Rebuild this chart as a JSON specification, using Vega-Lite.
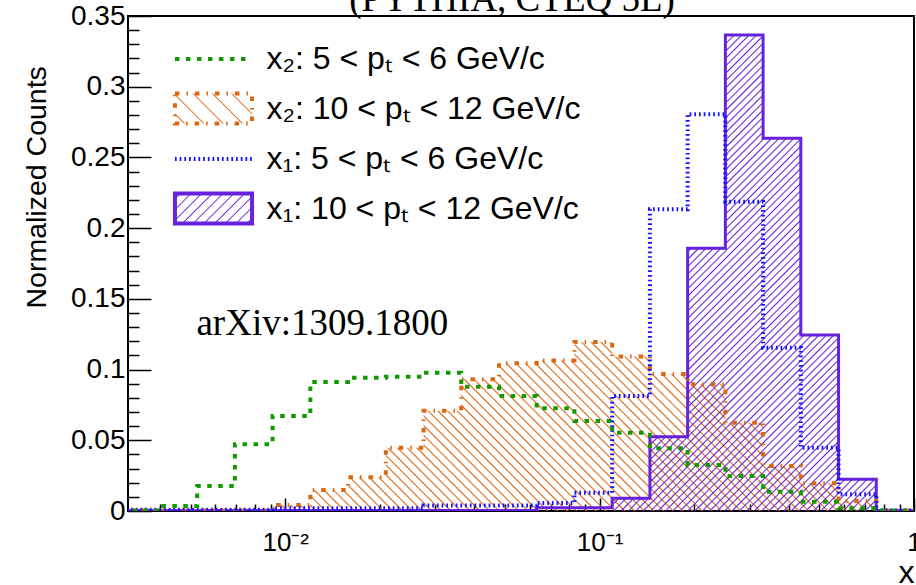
{
"$schema":"https://vega.github.io/schema/vega-lite/v6.json",
"width":786,"height":495,"autosize":"none",
"padding":{"left":128,"top":16,"right":2,"bottom":74},
"background":"white",
"config":{"view":{"stroke":"black","strokeWidth":2},"axis":{"domain":false,"grid":false,"tickColor":"black","tickWidth":1.5,"labelColor":"black","labelFont":"Liberation Sans","titleColor":"black","titleFont":"Liberation Sans","titleFontWeight":"normal","labelOverlap":false,"labelFlush":false,"labelBound":false}},
"data":{"values":[
{"lo":0.0030200,"hi":0.0039811,"g":0.0004,"o":0.0003,"b":0.0008,"p":0.0003},
{"lo":0.0039811,"hi":0.0052481,"g":0.0035,"o":0.0003,"b":0.0008,"p":0.0003},
{"lo":0.0052481,"hi":0.0069183,"g":0.0177,"o":0.0003,"b":0.0008,"p":0.0003},
{"lo":0.0069183,"hi":0.0091201,"g":0.0472,"o":0.0003,"b":0.0008,"p":0.0003},
{"lo":0.0091201,"hi":0.0120226,"g":0.0672,"o":0.0042,"b":0.0019,"p":0.0003},
{"lo":0.0120226,"hi":0.0158489,"g":0.0912,"o":0.0148,"b":0.0019,"p":0.0003},
{"lo":0.0158489,"hi":0.0208930,"g":0.0942,"o":0.0238,"b":0.0019,"p":0.0003},
{"lo":0.0208930,"hi":0.0275423,"g":0.0950,"o":0.0448,"b":0.0019,"p":0.0003},
{"lo":0.0275423,"hi":0.0363078,"g":0.0978,"o":0.0708,"b":0.0039,"p":0.0004},
{"lo":0.0363078,"hi":0.0478630,"g":0.0879,"o":0.0931,"b":0.0039,"p":0.0004},
{"lo":0.0478630,"hi":0.0630957,"g":0.0813,"o":0.1044,"b":0.0039,"p":0.0004},
{"lo":0.0630957,"hi":0.0831764,"g":0.0726,"o":0.1065,"b":0.0057,"p":0.0023},
{"lo":0.0831764,"hi":0.1096478,"g":0.0636,"o":0.1195,"b":0.0129,"p":0.0023},
{"lo":0.1096478,"hi":0.1445440,"g":0.0554,"o":0.1092,"b":0.0813,"p":0.0090},
{"lo":0.1445440,"hi":0.1905461,"g":0.0443,"o":0.0969,"b":0.2133,"p":0.0525},
{"lo":0.1905461,"hi":0.2511886,"g":0.0325,"o":0.0896,"b":0.2805,"p":0.1857},
{"lo":0.2511886,"hi":0.3311311,"g":0.0247,"o":0.0624,"b":0.2187,"p":0.3365},
{"lo":0.3311311,"hi":0.4365158,"g":0.0136,"o":0.0318,"b":0.1155,"p":0.2635},
{"lo":0.4365158,"hi":0.5754399,"g":0.0066,"o":0.0196,"b":0.0448,"p":0.1244},
{"lo":0.5754399,"hi":0.7585776,"g":0.0019,"o":0.0071,"b":0.0118,"p":0.0224},
{"lo":0.7585776,"hi":1.0,"g":0.0004,"o":0.0004,"b":0.0004,"p":0.0003}
]},
"resolve":{"axis":{"x":"independent","y":"independent"}},
"layer":[
{"transform":[{"filter":"datum.o > 0.004"},{"fold":["lo","hi"],"as":["edge","x"]}],
"mark":{"type":"area","clip":true,"fill":{"gradient":"linear","x1":0,"y1":1,"x2":1.1869,"y2":0.6677,"stops":[
{"offset":0.004,"color":"#d610"},{"offset":0.006,"color":"#d61"},{"offset":0.008,"color":"#d610"},{"offset":0.0165,"color":"#d610"},{"offset":0.0185,"color":"#d61"},{"offset":0.0205,"color":"#d610"},{"offset":0.029,"color":"#d610"},{"offset":0.031,"color":"#d61"},{"offset":0.033,"color":"#d610"},{"offset":0.0415,"color":"#d610"},{"offset":0.0435,"color":"#d61"},{"offset":0.0455,"color":"#d610"},{"offset":0.054,"color":"#d610"},{"offset":0.056,"color":"#d61"},{"offset":0.058,"color":"#d610"},{"offset":0.0665,"color":"#d610"},{"offset":0.0685,"color":"#d61"},{"offset":0.0705,"color":"#d610"},{"offset":0.079,"color":"#d610"},{"offset":0.081,"color":"#d61"},{"offset":0.083,"color":"#d610"},{"offset":0.0915,"color":"#d610"},{"offset":0.0935,"color":"#d61"},{"offset":0.0955,"color":"#d610"},
{"offset":0.104,"color":"#d610"},{"offset":0.106,"color":"#d61"},{"offset":0.108,"color":"#d610"},{"offset":0.1165,"color":"#d610"},{"offset":0.1185,"color":"#d61"},{"offset":0.1205,"color":"#d610"},{"offset":0.129,"color":"#d610"},{"offset":0.131,"color":"#d61"},{"offset":0.133,"color":"#d610"},{"offset":0.1415,"color":"#d610"},{"offset":0.1435,"color":"#d61"},{"offset":0.1455,"color":"#d610"},{"offset":0.154,"color":"#d610"},{"offset":0.156,"color":"#d61"},{"offset":0.158,"color":"#d610"},{"offset":0.1665,"color":"#d610"},{"offset":0.1685,"color":"#d61"},{"offset":0.1705,"color":"#d610"},{"offset":0.179,"color":"#d610"},{"offset":0.181,"color":"#d61"},{"offset":0.183,"color":"#d610"},{"offset":0.1915,"color":"#d610"},{"offset":0.1935,"color":"#d61"},{"offset":0.1955,"color":"#d610"},
{"offset":0.204,"color":"#d610"},{"offset":0.206,"color":"#d61"},{"offset":0.208,"color":"#d610"},{"offset":0.2165,"color":"#d610"},{"offset":0.2185,"color":"#d61"},{"offset":0.2205,"color":"#d610"},{"offset":0.229,"color":"#d610"},{"offset":0.231,"color":"#d61"},{"offset":0.233,"color":"#d610"},{"offset":0.2415,"color":"#d610"},{"offset":0.2435,"color":"#d61"},{"offset":0.2455,"color":"#d610"},{"offset":0.254,"color":"#d610"},{"offset":0.256,"color":"#d61"},{"offset":0.258,"color":"#d610"},{"offset":0.2665,"color":"#d610"},{"offset":0.2685,"color":"#d61"},{"offset":0.2705,"color":"#d610"},{"offset":0.279,"color":"#d610"},{"offset":0.281,"color":"#d61"},{"offset":0.283,"color":"#d610"},{"offset":0.2915,"color":"#d610"},{"offset":0.2935,"color":"#d61"},{"offset":0.2955,"color":"#d610"},
{"offset":0.304,"color":"#d610"},{"offset":0.306,"color":"#d61"},{"offset":0.308,"color":"#d610"},{"offset":0.3165,"color":"#d610"},{"offset":0.3185,"color":"#d61"},{"offset":0.3205,"color":"#d610"},{"offset":0.329,"color":"#d610"},{"offset":0.331,"color":"#d61"},{"offset":0.333,"color":"#d610"},{"offset":0.3415,"color":"#d610"},{"offset":0.3435,"color":"#d61"},{"offset":0.3455,"color":"#d610"},{"offset":0.354,"color":"#d610"},{"offset":0.356,"color":"#d61"},{"offset":0.358,"color":"#d610"},{"offset":0.3665,"color":"#d610"},{"offset":0.3685,"color":"#d61"},{"offset":0.3705,"color":"#d610"},{"offset":0.379,"color":"#d610"},{"offset":0.381,"color":"#d61"},{"offset":0.383,"color":"#d610"},{"offset":0.3915,"color":"#d610"},{"offset":0.3935,"color":"#d61"},{"offset":0.3955,"color":"#d610"},
{"offset":0.404,"color":"#d610"},{"offset":0.406,"color":"#d61"},{"offset":0.408,"color":"#d610"},{"offset":0.4165,"color":"#d610"},{"offset":0.4185,"color":"#d61"},{"offset":0.4205,"color":"#d610"},{"offset":0.429,"color":"#d610"},{"offset":0.431,"color":"#d61"},{"offset":0.433,"color":"#d610"},{"offset":0.4415,"color":"#d610"},{"offset":0.4435,"color":"#d61"},{"offset":0.4455,"color":"#d610"},{"offset":0.454,"color":"#d610"},{"offset":0.456,"color":"#d61"},{"offset":0.458,"color":"#d610"},{"offset":0.4665,"color":"#d610"},{"offset":0.4685,"color":"#d61"},{"offset":0.4705,"color":"#d610"},{"offset":0.479,"color":"#d610"},{"offset":0.481,"color":"#d61"},{"offset":0.483,"color":"#d610"},{"offset":0.4915,"color":"#d610"},{"offset":0.4935,"color":"#d61"},{"offset":0.4955,"color":"#d610"},
{"offset":0.504,"color":"#d610"},{"offset":0.506,"color":"#d61"},{"offset":0.508,"color":"#d610"},{"offset":0.5165,"color":"#d610"},{"offset":0.5185,"color":"#d61"},{"offset":0.5205,"color":"#d610"},{"offset":0.529,"color":"#d610"},{"offset":0.531,"color":"#d61"},{"offset":0.533,"color":"#d610"},{"offset":0.5415,"color":"#d610"},{"offset":0.5435,"color":"#d61"},{"offset":0.5455,"color":"#d610"},{"offset":0.554,"color":"#d610"},{"offset":0.556,"color":"#d61"},{"offset":0.558,"color":"#d610"},{"offset":0.5665,"color":"#d610"},{"offset":0.5685,"color":"#d61"},{"offset":0.5705,"color":"#d610"},{"offset":0.579,"color":"#d610"},{"offset":0.581,"color":"#d61"},{"offset":0.583,"color":"#d610"},{"offset":0.5915,"color":"#d610"},{"offset":0.5935,"color":"#d61"},{"offset":0.5955,"color":"#d610"},
{"offset":0.604,"color":"#d610"},{"offset":0.606,"color":"#d61"},{"offset":0.608,"color":"#d610"},{"offset":0.6165,"color":"#d610"},{"offset":0.6185,"color":"#d61"},{"offset":0.6205,"color":"#d610"},{"offset":0.629,"color":"#d610"},{"offset":0.631,"color":"#d61"},{"offset":0.633,"color":"#d610"},{"offset":0.6415,"color":"#d610"},{"offset":0.6435,"color":"#d61"},{"offset":0.6455,"color":"#d610"},{"offset":0.654,"color":"#d610"},{"offset":0.656,"color":"#d61"},{"offset":0.658,"color":"#d610"},{"offset":0.6665,"color":"#d610"},{"offset":0.6685,"color":"#d61"},{"offset":0.6705,"color":"#d610"},{"offset":0.679,"color":"#d610"},{"offset":0.681,"color":"#d61"},{"offset":0.683,"color":"#d610"},{"offset":0.6915,"color":"#d610"},{"offset":0.6935,"color":"#d61"},{"offset":0.6955,"color":"#d610"},
{"offset":0.704,"color":"#d610"},{"offset":0.706,"color":"#d61"},{"offset":0.708,"color":"#d610"},{"offset":0.7165,"color":"#d610"},{"offset":0.7185,"color":"#d61"},{"offset":0.7205,"color":"#d610"},{"offset":0.729,"color":"#d610"},{"offset":0.731,"color":"#d61"},{"offset":0.733,"color":"#d610"},{"offset":0.7415,"color":"#d610"},{"offset":0.7435,"color":"#d61"},{"offset":0.7455,"color":"#d610"},{"offset":0.754,"color":"#d610"},{"offset":0.756,"color":"#d61"},{"offset":0.758,"color":"#d610"},{"offset":0.7665,"color":"#d610"},{"offset":0.7685,"color":"#d61"},{"offset":0.7705,"color":"#d610"},{"offset":0.779,"color":"#d610"},{"offset":0.781,"color":"#d61"},{"offset":0.783,"color":"#d610"},{"offset":0.7915,"color":"#d610"},{"offset":0.7935,"color":"#d61"},{"offset":0.7955,"color":"#d610"},
{"offset":0.804,"color":"#d610"},{"offset":0.806,"color":"#d61"},{"offset":0.808,"color":"#d610"},{"offset":0.8165,"color":"#d610"},{"offset":0.8185,"color":"#d61"},{"offset":0.8205,"color":"#d610"},{"offset":0.829,"color":"#d610"},{"offset":0.831,"color":"#d61"},{"offset":0.833,"color":"#d610"},{"offset":0.8415,"color":"#d610"},{"offset":0.8435,"color":"#d61"},{"offset":0.8455,"color":"#d610"},{"offset":0.854,"color":"#d610"},{"offset":0.856,"color":"#d61"},{"offset":0.858,"color":"#d610"},{"offset":0.8665,"color":"#d610"},{"offset":0.8685,"color":"#d61"},{"offset":0.8705,"color":"#d610"},{"offset":0.879,"color":"#d610"},{"offset":0.881,"color":"#d61"},{"offset":0.883,"color":"#d610"},{"offset":0.8915,"color":"#d610"},{"offset":0.8935,"color":"#d61"},{"offset":0.8955,"color":"#d610"},
{"offset":0.904,"color":"#d610"},{"offset":0.906,"color":"#d61"},{"offset":0.908,"color":"#d610"},{"offset":0.9165,"color":"#d610"},{"offset":0.9185,"color":"#d61"},{"offset":0.9205,"color":"#d610"},{"offset":0.929,"color":"#d610"},{"offset":0.931,"color":"#d61"},{"offset":0.933,"color":"#d610"},{"offset":0.9415,"color":"#d610"},{"offset":0.9435,"color":"#d61"},{"offset":0.9455,"color":"#d610"},{"offset":0.954,"color":"#d610"},{"offset":0.956,"color":"#d61"},{"offset":0.958,"color":"#d610"},{"offset":0.9665,"color":"#d610"},{"offset":0.9685,"color":"#d61"},{"offset":0.9705,"color":"#d610"},{"offset":0.979,"color":"#d610"},{"offset":0.981,"color":"#d61"},{"offset":0.983,"color":"#d610"},{"offset":0.9915,"color":"#d610"},{"offset":0.9935,"color":"#d61"},{"offset":0.9955,"color":"#d610"}
]}},
"encoding":{"x":{"field":"x","type":"quantitative","scale":{"type":"log","domain":[0.0031623,1],"nice":false},"axis":null},"y":{"field":"o","type":"quantitative","scale":{"domain":[0,0.35],"nice":false},"axis":null,"stack":null}}},
{"transform":[{"filter":"datum.p > 0.005"},{"fold":["lo","hi"],"as":["edge","x"]}],
"mark":{"type":"area","clip":true,"fill":{"gradient":"linear","x1":0,"y1":0,"x2":0.6597,"y2":1.1888,"stops":[
{"offset":0.003,"color":"#62d0"},{"offset":0.005,"color":"#62d"},{"offset":0.007,"color":"#62d0"},{"offset":0.013,"color":"#62d0"},{"offset":0.015,"color":"#62d"},{"offset":0.017,"color":"#62d0"},{"offset":0.023,"color":"#62d0"},{"offset":0.025,"color":"#62d"},{"offset":0.027,"color":"#62d0"},{"offset":0.033,"color":"#62d0"},{"offset":0.035,"color":"#62d"},{"offset":0.037,"color":"#62d0"},{"offset":0.043,"color":"#62d0"},{"offset":0.045,"color":"#62d"},{"offset":0.047,"color":"#62d0"},{"offset":0.053,"color":"#62d0"},{"offset":0.055,"color":"#62d"},{"offset":0.057,"color":"#62d0"},{"offset":0.063,"color":"#62d0"},{"offset":0.065,"color":"#62d"},{"offset":0.067,"color":"#62d0"},{"offset":0.073,"color":"#62d0"},{"offset":0.075,"color":"#62d"},{"offset":0.077,"color":"#62d0"},{"offset":0.083,"color":"#62d0"},{"offset":0.085,"color":"#62d"},{"offset":0.087,"color":"#62d0"},{"offset":0.093,"color":"#62d0"},{"offset":0.095,"color":"#62d"},{"offset":0.097,"color":"#62d0"},
{"offset":0.103,"color":"#62d0"},{"offset":0.105,"color":"#62d"},{"offset":0.107,"color":"#62d0"},{"offset":0.113,"color":"#62d0"},{"offset":0.115,"color":"#62d"},{"offset":0.117,"color":"#62d0"},{"offset":0.123,"color":"#62d0"},{"offset":0.125,"color":"#62d"},{"offset":0.127,"color":"#62d0"},{"offset":0.133,"color":"#62d0"},{"offset":0.135,"color":"#62d"},{"offset":0.137,"color":"#62d0"},{"offset":0.143,"color":"#62d0"},{"offset":0.145,"color":"#62d"},{"offset":0.147,"color":"#62d0"},{"offset":0.153,"color":"#62d0"},{"offset":0.155,"color":"#62d"},{"offset":0.157,"color":"#62d0"},{"offset":0.163,"color":"#62d0"},{"offset":0.165,"color":"#62d"},{"offset":0.167,"color":"#62d0"},{"offset":0.173,"color":"#62d0"},{"offset":0.175,"color":"#62d"},{"offset":0.177,"color":"#62d0"},{"offset":0.183,"color":"#62d0"},{"offset":0.185,"color":"#62d"},{"offset":0.187,"color":"#62d0"},{"offset":0.193,"color":"#62d0"},{"offset":0.195,"color":"#62d"},{"offset":0.197,"color":"#62d0"},
{"offset":0.203,"color":"#62d0"},{"offset":0.205,"color":"#62d"},{"offset":0.207,"color":"#62d0"},{"offset":0.213,"color":"#62d0"},{"offset":0.215,"color":"#62d"},{"offset":0.217,"color":"#62d0"},{"offset":0.223,"color":"#62d0"},{"offset":0.225,"color":"#62d"},{"offset":0.227,"color":"#62d0"},{"offset":0.233,"color":"#62d0"},{"offset":0.235,"color":"#62d"},{"offset":0.237,"color":"#62d0"},{"offset":0.243,"color":"#62d0"},{"offset":0.245,"color":"#62d"},{"offset":0.247,"color":"#62d0"},{"offset":0.253,"color":"#62d0"},{"offset":0.255,"color":"#62d"},{"offset":0.257,"color":"#62d0"},{"offset":0.263,"color":"#62d0"},{"offset":0.265,"color":"#62d"},{"offset":0.267,"color":"#62d0"},{"offset":0.273,"color":"#62d0"},{"offset":0.275,"color":"#62d"},{"offset":0.277,"color":"#62d0"},{"offset":0.283,"color":"#62d0"},{"offset":0.285,"color":"#62d"},{"offset":0.287,"color":"#62d0"},{"offset":0.293,"color":"#62d0"},{"offset":0.295,"color":"#62d"},{"offset":0.297,"color":"#62d0"},
{"offset":0.303,"color":"#62d0"},{"offset":0.305,"color":"#62d"},{"offset":0.307,"color":"#62d0"},{"offset":0.313,"color":"#62d0"},{"offset":0.315,"color":"#62d"},{"offset":0.317,"color":"#62d0"},{"offset":0.323,"color":"#62d0"},{"offset":0.325,"color":"#62d"},{"offset":0.327,"color":"#62d0"},{"offset":0.333,"color":"#62d0"},{"offset":0.335,"color":"#62d"},{"offset":0.337,"color":"#62d0"},{"offset":0.343,"color":"#62d0"},{"offset":0.345,"color":"#62d"},{"offset":0.347,"color":"#62d0"},{"offset":0.353,"color":"#62d0"},{"offset":0.355,"color":"#62d"},{"offset":0.357,"color":"#62d0"},{"offset":0.363,"color":"#62d0"},{"offset":0.365,"color":"#62d"},{"offset":0.367,"color":"#62d0"},{"offset":0.373,"color":"#62d0"},{"offset":0.375,"color":"#62d"},{"offset":0.377,"color":"#62d0"},{"offset":0.383,"color":"#62d0"},{"offset":0.385,"color":"#62d"},{"offset":0.387,"color":"#62d0"},{"offset":0.393,"color":"#62d0"},{"offset":0.395,"color":"#62d"},{"offset":0.397,"color":"#62d0"},
{"offset":0.403,"color":"#62d0"},{"offset":0.405,"color":"#62d"},{"offset":0.407,"color":"#62d0"},{"offset":0.413,"color":"#62d0"},{"offset":0.415,"color":"#62d"},{"offset":0.417,"color":"#62d0"},{"offset":0.423,"color":"#62d0"},{"offset":0.425,"color":"#62d"},{"offset":0.427,"color":"#62d0"},{"offset":0.433,"color":"#62d0"},{"offset":0.435,"color":"#62d"},{"offset":0.437,"color":"#62d0"},{"offset":0.443,"color":"#62d0"},{"offset":0.445,"color":"#62d"},{"offset":0.447,"color":"#62d0"},{"offset":0.453,"color":"#62d0"},{"offset":0.455,"color":"#62d"},{"offset":0.457,"color":"#62d0"},{"offset":0.463,"color":"#62d0"},{"offset":0.465,"color":"#62d"},{"offset":0.467,"color":"#62d0"},{"offset":0.473,"color":"#62d0"},{"offset":0.475,"color":"#62d"},{"offset":0.477,"color":"#62d0"},{"offset":0.483,"color":"#62d0"},{"offset":0.485,"color":"#62d"},{"offset":0.487,"color":"#62d0"},{"offset":0.493,"color":"#62d0"},{"offset":0.495,"color":"#62d"},{"offset":0.497,"color":"#62d0"},
{"offset":0.503,"color":"#62d0"},{"offset":0.505,"color":"#62d"},{"offset":0.507,"color":"#62d0"},{"offset":0.513,"color":"#62d0"},{"offset":0.515,"color":"#62d"},{"offset":0.517,"color":"#62d0"},{"offset":0.523,"color":"#62d0"},{"offset":0.525,"color":"#62d"},{"offset":0.527,"color":"#62d0"},{"offset":0.533,"color":"#62d0"},{"offset":0.535,"color":"#62d"},{"offset":0.537,"color":"#62d0"},{"offset":0.543,"color":"#62d0"},{"offset":0.545,"color":"#62d"},{"offset":0.547,"color":"#62d0"},{"offset":0.553,"color":"#62d0"},{"offset":0.555,"color":"#62d"},{"offset":0.557,"color":"#62d0"},{"offset":0.563,"color":"#62d0"},{"offset":0.565,"color":"#62d"},{"offset":0.567,"color":"#62d0"},{"offset":0.573,"color":"#62d0"},{"offset":0.575,"color":"#62d"},{"offset":0.577,"color":"#62d0"},{"offset":0.583,"color":"#62d0"},{"offset":0.585,"color":"#62d"},{"offset":0.587,"color":"#62d0"},{"offset":0.593,"color":"#62d0"},{"offset":0.595,"color":"#62d"},{"offset":0.597,"color":"#62d0"},
{"offset":0.603,"color":"#62d0"},{"offset":0.605,"color":"#62d"},{"offset":0.607,"color":"#62d0"},{"offset":0.613,"color":"#62d0"},{"offset":0.615,"color":"#62d"},{"offset":0.617,"color":"#62d0"},{"offset":0.623,"color":"#62d0"},{"offset":0.625,"color":"#62d"},{"offset":0.627,"color":"#62d0"},{"offset":0.633,"color":"#62d0"},{"offset":0.635,"color":"#62d"},{"offset":0.637,"color":"#62d0"},{"offset":0.643,"color":"#62d0"},{"offset":0.645,"color":"#62d"},{"offset":0.647,"color":"#62d0"},{"offset":0.653,"color":"#62d0"},{"offset":0.655,"color":"#62d"},{"offset":0.657,"color":"#62d0"},{"offset":0.663,"color":"#62d0"},{"offset":0.665,"color":"#62d"},{"offset":0.667,"color":"#62d0"},{"offset":0.673,"color":"#62d0"},{"offset":0.675,"color":"#62d"},{"offset":0.677,"color":"#62d0"},{"offset":0.683,"color":"#62d0"},{"offset":0.685,"color":"#62d"},{"offset":0.687,"color":"#62d0"},{"offset":0.693,"color":"#62d0"},{"offset":0.695,"color":"#62d"},{"offset":0.697,"color":"#62d0"},
{"offset":0.703,"color":"#62d0"},{"offset":0.705,"color":"#62d"},{"offset":0.707,"color":"#62d0"},{"offset":0.713,"color":"#62d0"},{"offset":0.715,"color":"#62d"},{"offset":0.717,"color":"#62d0"},{"offset":0.723,"color":"#62d0"},{"offset":0.725,"color":"#62d"},{"offset":0.727,"color":"#62d0"},{"offset":0.733,"color":"#62d0"},{"offset":0.735,"color":"#62d"},{"offset":0.737,"color":"#62d0"},{"offset":0.743,"color":"#62d0"},{"offset":0.745,"color":"#62d"},{"offset":0.747,"color":"#62d0"},{"offset":0.753,"color":"#62d0"},{"offset":0.755,"color":"#62d"},{"offset":0.757,"color":"#62d0"},{"offset":0.763,"color":"#62d0"},{"offset":0.765,"color":"#62d"},{"offset":0.767,"color":"#62d0"},{"offset":0.773,"color":"#62d0"},{"offset":0.775,"color":"#62d"},{"offset":0.777,"color":"#62d0"},{"offset":0.783,"color":"#62d0"},{"offset":0.785,"color":"#62d"},{"offset":0.787,"color":"#62d0"},{"offset":0.793,"color":"#62d0"},{"offset":0.795,"color":"#62d"},{"offset":0.797,"color":"#62d0"},
{"offset":0.803,"color":"#62d0"},{"offset":0.805,"color":"#62d"},{"offset":0.807,"color":"#62d0"},{"offset":0.813,"color":"#62d0"},{"offset":0.815,"color":"#62d"},{"offset":0.817,"color":"#62d0"},{"offset":0.823,"color":"#62d0"},{"offset":0.825,"color":"#62d"},{"offset":0.827,"color":"#62d0"},{"offset":0.833,"color":"#62d0"},{"offset":0.835,"color":"#62d"},{"offset":0.837,"color":"#62d0"},{"offset":0.843,"color":"#62d0"},{"offset":0.845,"color":"#62d"},{"offset":0.847,"color":"#62d0"},{"offset":0.853,"color":"#62d0"},{"offset":0.855,"color":"#62d"},{"offset":0.857,"color":"#62d0"},{"offset":0.863,"color":"#62d0"},{"offset":0.865,"color":"#62d"},{"offset":0.867,"color":"#62d0"},{"offset":0.873,"color":"#62d0"},{"offset":0.875,"color":"#62d"},{"offset":0.877,"color":"#62d0"},{"offset":0.883,"color":"#62d0"},{"offset":0.885,"color":"#62d"},{"offset":0.887,"color":"#62d0"},{"offset":0.893,"color":"#62d0"},{"offset":0.895,"color":"#62d"},{"offset":0.897,"color":"#62d0"},
{"offset":0.903,"color":"#62d0"},{"offset":0.905,"color":"#62d"},{"offset":0.907,"color":"#62d0"},{"offset":0.913,"color":"#62d0"},{"offset":0.915,"color":"#62d"},{"offset":0.917,"color":"#62d0"},{"offset":0.923,"color":"#62d0"},{"offset":0.925,"color":"#62d"},{"offset":0.927,"color":"#62d0"},{"offset":0.933,"color":"#62d0"},{"offset":0.935,"color":"#62d"},{"offset":0.937,"color":"#62d0"},{"offset":0.943,"color":"#62d0"},{"offset":0.945,"color":"#62d"},{"offset":0.947,"color":"#62d0"},{"offset":0.953,"color":"#62d0"},{"offset":0.955,"color":"#62d"},{"offset":0.957,"color":"#62d0"},{"offset":0.963,"color":"#62d0"},{"offset":0.965,"color":"#62d"},{"offset":0.967,"color":"#62d0"},{"offset":0.973,"color":"#62d0"},{"offset":0.975,"color":"#62d"},{"offset":0.977,"color":"#62d0"},{"offset":0.983,"color":"#62d0"},{"offset":0.985,"color":"#62d"},{"offset":0.987,"color":"#62d0"},{"offset":0.993,"color":"#62d0"},{"offset":0.995,"color":"#62d"},{"offset":0.997,"color":"#62d0"}
]}},
"encoding":{"x":{"field":"x","type":"quantitative","scale":{"type":"log"},"axis":null},"y":{"field":"p","type":"quantitative","axis":null,"stack":null}}},
{"transform":[{"fold":["lo","hi"],"as":["edge","x"]}],
"mark":{"type":"line","clip":true,"strokeWidth":3,"interpolate":"linear"},
"encoding":{"x":{"field":"x","type":"quantitative","scale":{"type":"log"},"axis":null},"y":{"field":"p","type":"quantitative","axis":null},"order":[{"field":"x","type":"quantitative"},{"field":"edge","type":"nominal"}],
"color":{"datum":"p","type":"nominal","scale":{"domain":["g","o","b","p"],"range":["#190","#d61","#11f","#62d"]},
"legend":{"orient":"none","legendX":68.5,"legendY":26,"title":null,"padding":0,"symbolSize":900,"symbolStrokeWidth":4,"labelFont":"Liberation Sans","labelFontSize":32,"labelColor":"black","labelOffset":36,"rowPadding":10.5,"labelLimit":0,
"labelExpr":"datum.value == 'g' ? 'x₂: 5 < pₜ < 6 GeV/c' : datum.value == 'o' ? 'x₂: 10 < pₜ < 12 GeV/c' : datum.value == 'b' ? 'x₁: 5 < pₜ < 6 GeV/c' : 'x₁: 10 < pₜ < 12 GeV/c'",
"encode":{"symbols":{"update":{
"shape":[{"test":"datum.value == 'o' || datum.value == 'p'","value":"M-2.57,-1H2.57V1H-2.57Z"},{"value":"M-2.57,0H2.57"}],
"stroke":[{"test":"datum.value == 'g'","value":"#190"},{"test":"datum.value == 'o'","value":"#d61"},{"test":"datum.value == 'b'","value":"#11f"},{"value":"#62d"}],
"fill":[{"test":"datum.value == 'o'","value":{"gradient":"linear","x1":0,"y1":1,"x2":1.2064,"y2":0.5306,"stops":[{"offset":0.078,"color":"#d610"},{"offset":0.09,"color":"#d61"},{"offset":0.102,"color":"#d610"},{"offset":0.258,"color":"#d610"},{"offset":0.27,"color":"#d61"},{"offset":0.282,"color":"#d610"},{"offset":0.438,"color":"#d610"},{"offset":0.45,"color":"#d61"},{"offset":0.462,"color":"#d610"},{"offset":0.618,"color":"#d610"},{"offset":0.63,"color":"#d61"},{"offset":0.642,"color":"#d610"},{"offset":0.798,"color":"#d610"},{"offset":0.81,"color":"#d61"},{"offset":0.822,"color":"#d610"}]}},{"test":"datum.value == 'p'","value":{"gradient":"linear","x1":0,"y1":0,"x2":1.2064,"y2":0.4694,"stops":[{"offset":0.038,"color":"#62d0"},{"offset":0.05,"color":"#62d"},{"offset":0.062,"color":"#62d0"},{"offset":0.138,"color":"#62d0"},{"offset":0.15,"color":"#62d"},{"offset":0.162,"color":"#62d0"},{"offset":0.238,"color":"#62d0"},{"offset":0.25,"color":"#62d"},{"offset":0.262,"color":"#62d0"},{"offset":0.338,"color":"#62d0"},{"offset":0.35,"color":"#62d"},{"offset":0.362,"color":"#62d0"},{"offset":0.438,"color":"#62d0"},{"offset":0.45,"color":"#62d"},{"offset":0.462,"color":"#62d0"},{"offset":0.538,"color":"#62d0"},{"offset":0.55,"color":"#62d"},{"offset":0.562,"color":"#62d0"},{"offset":0.638,"color":"#62d0"},{"offset":0.65,"color":"#62d"},{"offset":0.662,"color":"#62d0"},{"offset":0.738,"color":"#62d0"},{"offset":0.75,"color":"#62d"},{"offset":0.762,"color":"#62d0"},{"offset":0.838,"color":"#62d0"},{"offset":0.85,"color":"#62d"},{"offset":0.862,"color":"#62d0"},{"offset":0.938,"color":"#62d0"},{"offset":0.95,"color":"#62d"},{"offset":0.962,"color":"#62d0"}]}},{"value":"transparent"}],
"strokeDash":[{"test":"datum.value == 'g'","value":[4.5,6.5]},{"test":"datum.value == 'o'","value":[4.5,7,1.5,7]},{"test":"datum.value == 'b'","value":[1.7,3]},{"value":[1,0]}],
"strokeWidth":{"value":4},
"opacity":{"value":1}
}
}
}
}
}
}
},
{"transform":[{"fold":["lo","hi"],"as":["edge","x"]}],
"mark":{"type":"line","clip":true,"strokeWidth":4,"strokeDash":[4.5,7,1.5,7],"strokeCap":"butt","interpolate":"linear"},
"encoding":{"x":{"field":"x","type":"quantitative","scale":{"type":"log"},"axis":null},"y":{"field":"o","type":"quantitative","axis":null},"order":[{"field":"x","type":"quantitative"},{"field":"edge","type":"nominal"}],"color":{"datum":"o","type":"nominal"}}},
{"transform":[{"fold":["lo","hi"],"as":["edge","x"]}],
"mark":{"type":"line","clip":true,"strokeWidth":4,"strokeDash":[1.7,3],"strokeCap":"butt","interpolate":"linear"},
"encoding":{"x":{"field":"x","type":"quantitative","scale":{"type":"log"},"axis":{"orient":"bottom","values":[0.004,0.005,0.006,0.007,0.008,0.009,0.02,0.03,0.04,0.05,0.06,0.07,0.08,0.09,0.2,0.3,0.4,0.5,0.6,0.7,0.8,0.9],"labels":false,"tickSize":-7,"title":null}},"y":{"field":"b","type":"quantitative","axis":{"orient":"left","values":[0.01,0.02,0.03,0.04,0.06,0.07,0.08,0.09,0.11,0.12,0.13,0.14,0.16,0.17,0.18,0.19,0.21,0.22,0.23,0.24,0.26,0.27,0.28,0.29,0.31,0.32,0.33,0.34],"labels":false,"tickSize":-11,"title":null}},"order":[{"field":"x","type":"quantitative"},{"field":"edge","type":"nominal"}],"color":{"datum":"b","type":"nominal"}}},
{"transform":[{"fold":["lo","hi"],"as":["edge","x"]}],
"mark":{"type":"line","clip":true,"strokeWidth":4,"strokeDash":[4.5,6.5],"strokeCap":"butt","interpolate":"linear"},
"encoding":{"x":{"field":"x","type":"quantitative","scale":{"type":"log"},"axis":{"orient":"bottom","values":[0.01,0.1,1],"labelExpr":"datum.value < 0.05 ? '10⁻²' : datum.value < 0.5 ? '10⁻¹' : '1'","tickSize":-13,"labelFontSize":26,"labelPadding":52,"labelBaseline":"alphabetic","title":"x","titleFontSize":32,"titleX":786,"titleY":71,"titleAlign":"right","titleBaseline":"alphabetic"}},
"y":{"field":"g","type":"quantitative","axis":{"orient":"left","values":[0,0.05,0.1,0.15,0.2,0.25,0.3,0.35],"format":"~g","tickSize":-23,"labelFontSize":28,"labelPadding":26,"labelBaseline":"middle","title":"Normalized Counts","titleFontSize":28.5,"titleAngle":-90,"titleX":-83,"titleY":292,"titleAlign":"left","titleBaseline":"alphabetic"}},
"order":[{"field":"x","type":"quantitative"},{"field":"edge","type":"nominal"}],
"color":{"datum":"g","type":"nominal"}}},
{"data":{"values":[{"label":"arXiv:1309.1800"}]},
"mark":{"type":"text","font":"Liberation Serif","fontSize":37,"align":"left","baseline":"alphabetic","color":"black"},
"encoding":{"x":{"datum":0.00522,"type":"quantitative","scale":{"type":"log"},"axis":null},"y":{"datum":0.1245,"type":"quantitative","axis":null},"text":{"field":"label"}}},
{"data":{"values":[{"label":"(PYTHIA, CTEQ 5L)"}]},
"mark":{"type":"text","font":"Liberation Serif","fontSize":37,"align":"center","baseline":"alphabetic","color":"black"},
"encoding":{"x":{"datum":0.05265,"type":"quantitative","scale":{"type":"log"},"axis":null},"y":{"datum":0.3535,"type":"quantitative","axis":null},"text":{"field":"label"}}}
]
}
